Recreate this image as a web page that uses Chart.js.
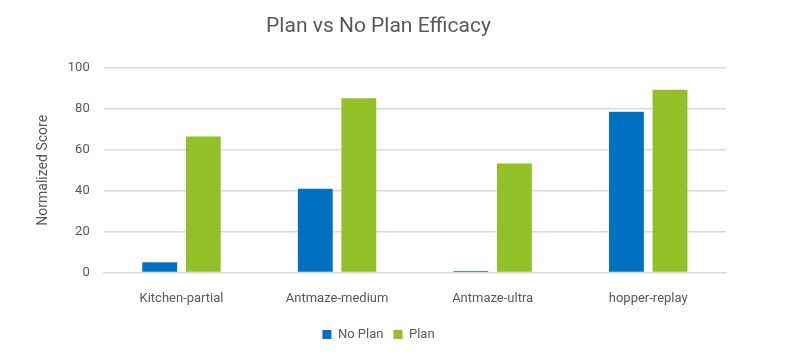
<!DOCTYPE html>
<html>
<head>
<meta charset="utf-8">
<script src="https://cdn.jsdelivr.net/npm/chart.js@4"></script>
<style>
  html, body { margin: 0; padding: 0; background: #fff; }
  #wrap { width: 794px; height: 362px; }
</style>
</head>
<body>
<div id="wrap"><canvas id="chartCanvas" width="794" height="362"></canvas></div>
<script>
// Chart data
const categories = ['Kitchen-partial', 'Antmaze-medium', 'Antmaze-ultra', 'hopper-replay'];
const noPlanScores = [5, 41, 0.7, 78.7];
const planScores = [66.5, 85.3, 53.3, 89.4];
const yTicks = [0, 20, 40, 60, 80, 100];

const FONT = '"Liberation Sans Narrow", "Roboto", sans-serif';
const TEXT = '#595959';

const ctx = document.getElementById('chartCanvas').getContext('2d');
new Chart(ctx, {
  type: 'bar',
  data: {
    labels: categories,
    datasets: [
      { label: 'No Plan', data: noPlanScores, backgroundColor: '#0070C0' },
      { label: 'Plan', data: planScores, backgroundColor: '#92C127' }
    ]
  },
  options: {
    responsive: false,
    animation: false,
    layout: { padding: { left: 31, right: 68, top: 6, bottom: 11 } },
    datasets: { bar: { categoryPercentage: 0.56, barPercentage: 0.8 } },
    plugins: {
      title: {
        display: true,
        text: 'Plan vs No Plan Efficacy',
        color: TEXT,
        font: { family: FONT, size: 21, weight: 'normal' },
        padding: { top: 8, bottom: 29 }
      },
      legend: {
        position: 'bottom',
        labels: {
          color: TEXT,
          font: { family: FONT, size: 13 },
          boxWidth: 9,
          boxHeight: 9,
          padding: 10
        }
      },
      tooltip: { enabled: false }
    },
    scales: {
      x: {
        grid: { display: false },
        border: { color: '#d9d9d9' },
        ticks: { color: TEXT, font: { family: FONT, size: 13 }, padding: 11 }
      },
      y: {
        min: 0,
        max: 100,
        afterBuildTicks: axis => { axis.ticks = yTicks.map(v => ({ value: v })); },
        grid: { color: '#d9d9d9', lineWidth: 1.5, drawTicks: false },
        border: { display: false },
        ticks: { color: TEXT, font: { family: FONT, size: 13 }, padding: 14 },
        title: {
          display: true,
          text: 'Normalized Score',
          color: TEXT,
          font: { family: FONT, size: 14 },
          padding: { bottom: 2 }
        }
      }
    }
  }
});
</script>
</body>
</html>
